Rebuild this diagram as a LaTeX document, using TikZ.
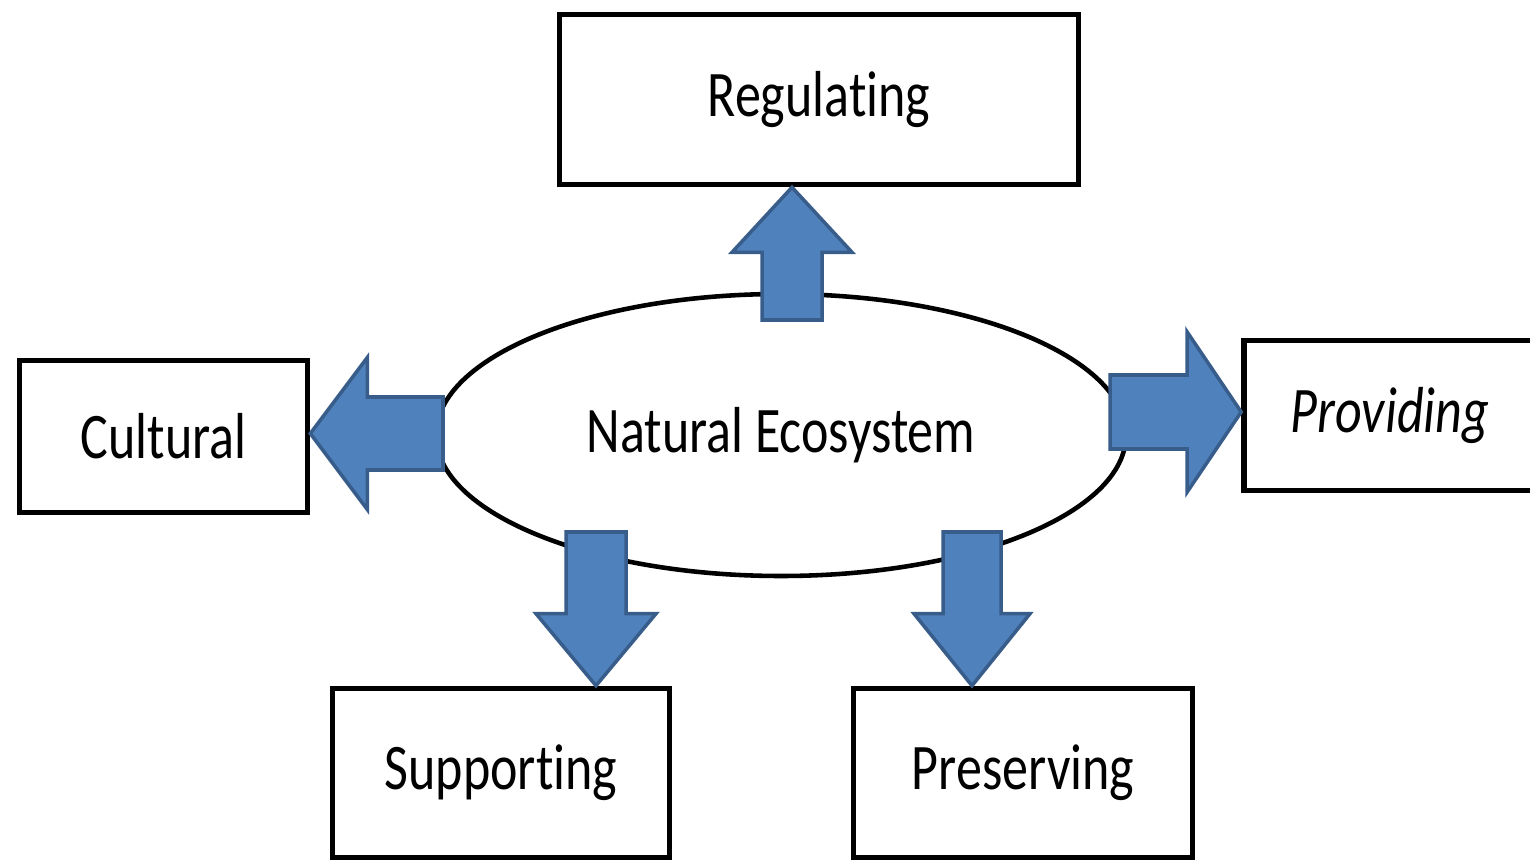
\documentclass[tikz,border=0pt]{standalone}
\usepackage{fontspec}
\setmainfont{Carlito}[FakeStretch=0.8, Ligatures=NoCommon]
\usetikzlibrary{shapes.geometric,calc}

\definecolor{arrowblue}{RGB}{79,129,189}
\definecolor{arrowedge}{RGB}{56,93,138}

\tikzset{
  servicebox/.style={draw, rectangle, line width=1.6pt, fill=white, inner sep=0pt,
    font=\fontsize{18.5}{22}\selectfont},
  ecobubble/.style={draw, ellipse, line width=1.3pt, inner sep=0pt,
    minimum width=6.90cm, minimum height=2.82cm, font=\fontsize{18.5}{22}\selectfont},
  blockarrow/.style={fill=arrowblue, draw=arrowedge, line width=1pt, line join=miter}
}

% block arrow: #1 tail, #2 tip, #3 half shaft, #4 half head, #5 head length
\newcommand{\fatarrow}[5]{%
  \filldraw[blockarrow]
    ($(#1)!#3!90:(#2)$) --
    ($(#2)!#5!(#1)!#3!90:(#2)$) --
    ($(#2)!#5!(#1)!#4!90:(#2)$) --
    (#2) --
    ($(#2)!#5!(#1)!#4!-90:(#2)$) --
    ($(#2)!#5!(#1)!#3!-90:(#2)$) --
    ($(#1)!#3!-90:(#2)$) -- cycle;
}

\begin{document}
\begin{tikzpicture}
  \useasboundingbox (0,0) rectangle (15.3,8.63);
  \clip (0,0) rectangle (15.3,8.63);

  % the ecosystem in the middle
  \node[ecobubble] (eco) at (7.81,4.28) {Natural Ecosystem};

  % the five services
  \node[servicebox, minimum width=5.19cm, minimum height=1.70cm] (reg)  at (8.19,7.635) {Regulating};
  \node[servicebox, minimum width=2.88cm, minimum height=1.52cm] (cult) at (1.635,4.265) {Cultural};
  \node[servicebox, minimum width=2.92cm, minimum height=1.50cm] (prov) at (13.90,4.475) {\itshape Providing};
  \node[servicebox, minimum width=3.37cm, minimum height=1.69cm] (supp) at (5.01,0.90) {Supporting};
  \node[servicebox, minimum width=3.39cm, minimum height=1.69cm] (pres) at (10.23,0.90) {Preserving};

  % tails of the arrows, inside the ellipse
  \coordinate (up0)  at (7.92,5.43);
  \coordinate (lft0) at (4.43,4.295);
  \coordinate (rgt0) at (11.10,4.51);
  \coordinate (dn0)  at (5.96,3.31);
  \coordinate (dn1)  at (9.72,3.31);

  % block arrows out to each service
  \fatarrow{up0}{up0 |- reg.south}{0.30cm}{0.60cm}{0.65cm}
  \fatarrow{lft0}{lft0 -| cult.east}{0.365cm}{0.76cm}{0.57cm}
  \fatarrow{rgt0}{rgt0 -| prov.west}{0.37cm}{0.80cm}{0.54cm}
  \fatarrow{dn0}{dn0 |- supp.north}{0.30cm}{0.60cm}{0.72cm}
  \fatarrow{dn1}{dn1 |- pres.north}{0.29cm}{0.58cm}{0.72cm}
\end{tikzpicture}
\end{document}
